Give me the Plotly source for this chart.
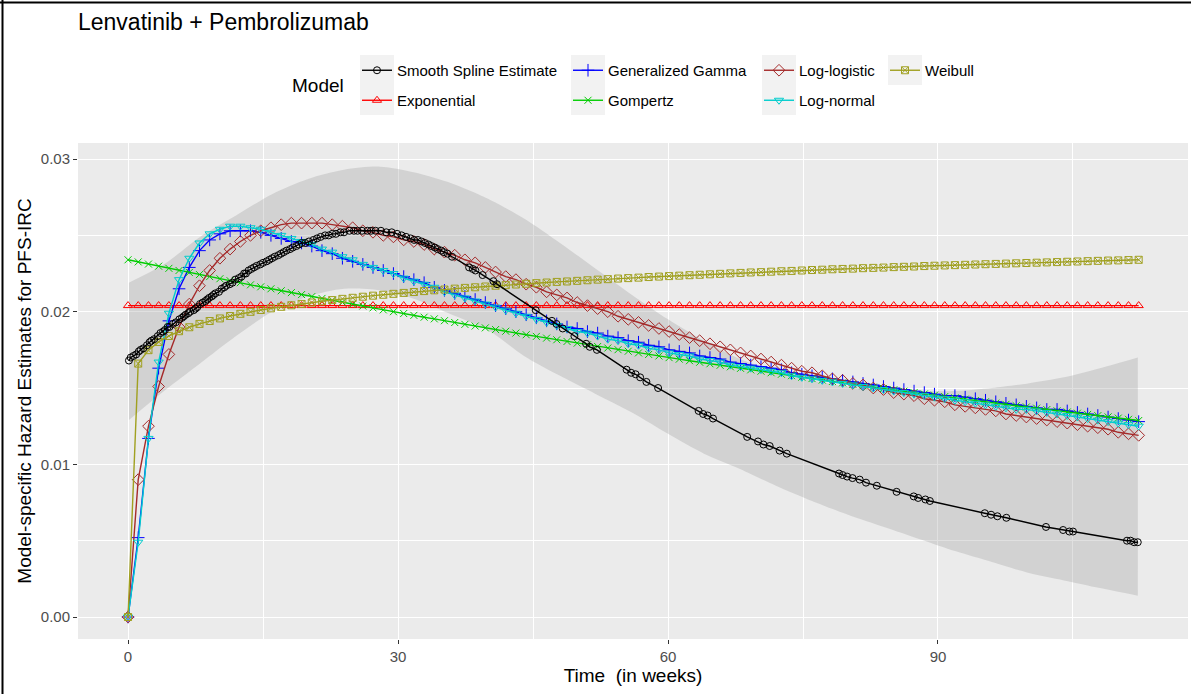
import plotly.graph_objects as go

FIG_W, FIG_H = 1191, 694
FONT = "Liberation Sans, Arial, Helvetica, sans-serif"

# ---- fitted parametric hazards, evaluated on a common grid of weeks ----
weeks = [0, 1.13, 2.27, 3.40, 4.54, 5.67, 6.81, 7.94, 9.07, 10.21,
         11.34, 12.48, 13.61, 14.75, 15.88, 17.02, 18.15, 19.28, 20.42, 21.55,
         22.69, 23.82, 24.96, 26.09, 27.22, 28.36, 29.49, 30.63, 31.76, 32.90,
         34.03, 35.16, 36.30, 37.43, 38.57, 39.70, 40.84, 41.97, 43.10, 44.24,
         45.37, 46.51, 47.64, 48.78, 49.91, 51.05, 52.18, 53.31, 54.45, 55.58,
         56.72, 57.85, 58.99, 60.12, 61.25, 62.39, 63.52, 64.66, 65.79, 66.93,
         68.06, 69.19, 70.33, 71.46, 72.60, 73.73, 74.87, 76.00, 77.14, 78.27,
         79.40, 80.54, 81.67, 82.81, 83.94, 85.08, 86.21, 87.34, 88.48, 89.61,
         90.75, 91.88, 93.02, 94.15, 95.28, 96.42, 97.55, 98.69, 99.82, 100.96,
         102.09, 103.23, 104.36, 105.49, 106.63, 107.76, 108.90, 110.03, 111.17, 112.30]

exponential_rate = 0.0204
exponential = [exponential_rate for _ in weeks]

gen_gamma = [0, 0.0052, 0.0117, 0.0163, 0.0194, 0.0215, 0.0229, 0.0240, 0.0247, 0.0251,
             0.0253, 0.0253, 0.0253, 0.0252, 0.0250, 0.0248, 0.0246, 0.0245, 0.0243, 0.0240,
             0.0238, 0.0235, 0.0233, 0.0231, 0.0229, 0.0227, 0.0225, 0.0223, 0.0221, 0.0219,
             0.0216, 0.0214, 0.0212, 0.0210, 0.0208, 0.0206, 0.0204, 0.0202, 0.0200, 0.0198,
             0.0196, 0.0194, 0.0192, 0.0190, 0.0189, 0.0187, 0.0186, 0.0184, 0.0183, 0.0181,
             0.0180, 0.0178, 0.0177, 0.0175, 0.0174, 0.0173, 0.0171, 0.0170, 0.0169, 0.0167,
             0.0166, 0.0165, 0.0164, 0.0163, 0.0162, 0.0160, 0.0159, 0.0158, 0.0157, 0.0156,
             0.0155, 0.0154, 0.0153, 0.0152, 0.0151, 0.0150, 0.0149, 0.0148, 0.0147, 0.0146,
             0.0145, 0.0145, 0.0144, 0.0143, 0.0142, 0.0141, 0.0140, 0.0139, 0.0138, 0.0137,
             0.0136, 0.0136, 0.0135, 0.0134, 0.0133, 0.0132, 0.0131, 0.0130, 0.0129, 0.0128]

gompertz = [0.02340, 0.02326, 0.02312, 0.02298, 0.02284, 0.02270, 0.02257, 0.02243, 0.02230, 0.02216,
            0.02203, 0.02190, 0.02176, 0.02163, 0.02150, 0.02137, 0.02125, 0.02112, 0.02099, 0.02087,
            0.02074, 0.02062, 0.02049, 0.02037, 0.02025, 0.02012, 0.02000, 0.01988, 0.01976, 0.01964,
            0.01953, 0.01941, 0.01929, 0.01917, 0.01906, 0.01894, 0.01883, 0.01872, 0.01860, 0.01849,
            0.01838, 0.01827, 0.01816, 0.01805, 0.01794, 0.01783, 0.01772, 0.01762, 0.01751, 0.01741,
            0.01730, 0.01720, 0.01710, 0.01699, 0.01689, 0.01679, 0.01669, 0.01659, 0.01649, 0.01639,
            0.01629, 0.01619, 0.01610, 0.01600, 0.01590, 0.01581, 0.01571, 0.01562, 0.01552, 0.01543,
            0.01534, 0.01524, 0.01515, 0.01506, 0.01497, 0.01488, 0.01479, 0.01470, 0.01461, 0.01453,
            0.01444, 0.01435, 0.01427, 0.01418, 0.01410, 0.01401, 0.01393, 0.01384, 0.01376, 0.01368,
            0.01359, 0.01351, 0.01343, 0.01335, 0.01327, 0.01319, 0.01311, 0.01303, 0.01295, 0.01287]

log_logistic = [0, 0.0090, 0.0125, 0.0151, 0.0172, 0.0190, 0.0205, 0.0217, 0.0227, 0.0235,
                0.0241, 0.0246, 0.0250, 0.0253, 0.0255, 0.0257, 0.0258, 0.0258, 0.0258, 0.0258,
                0.0257, 0.0256, 0.0255, 0.0253, 0.0252, 0.0250, 0.0249, 0.0247, 0.0246, 0.0244,
                0.0241, 0.0239, 0.0237, 0.0234, 0.0232, 0.0229, 0.0226, 0.0223, 0.0221, 0.0218,
                0.0216, 0.0213, 0.0211, 0.0209, 0.0206, 0.0204, 0.0202, 0.0200, 0.0197, 0.0195,
                0.0193, 0.0191, 0.0189, 0.0187, 0.0185, 0.0183, 0.0181, 0.0179, 0.0177, 0.0175,
                0.0173, 0.0171, 0.0169, 0.0167, 0.0165, 0.0163, 0.0161, 0.0160, 0.0158, 0.0156,
                0.0155, 0.0153, 0.0152, 0.0150, 0.0149, 0.0147, 0.0146, 0.0145, 0.0143, 0.0142,
                0.0141, 0.0139, 0.0138, 0.0137, 0.0136, 0.0135, 0.0133, 0.0132, 0.0131, 0.0130,
                0.0129, 0.0128, 0.0127, 0.0126, 0.0125, 0.0124, 0.0123, 0.0121, 0.0120, 0.0119]

log_normal = [0, 0.0049, 0.0117, 0.0167, 0.0199, 0.0221, 0.0235, 0.0245, 0.0251, 0.0254,
              0.0256, 0.0256, 0.0255, 0.0254, 0.0252, 0.0250, 0.0248, 0.0246, 0.0244, 0.0241,
              0.0239, 0.0236, 0.0234, 0.0231, 0.0229, 0.0227, 0.0225, 0.0222, 0.0220, 0.0218,
              0.0216, 0.0213, 0.0211, 0.0209, 0.0207, 0.0205, 0.0203, 0.0201, 0.0199, 0.0197,
              0.0195, 0.0193, 0.0191, 0.0189, 0.0187, 0.0186, 0.0184, 0.0182, 0.0181, 0.0179,
              0.0178, 0.0176, 0.0175, 0.0173, 0.0172, 0.0171, 0.0169, 0.0168, 0.0167, 0.0165,
              0.0164, 0.0163, 0.0162, 0.0161, 0.0160, 0.0158, 0.0157, 0.0156, 0.0155, 0.0154,
              0.0153, 0.0152, 0.0151, 0.0150, 0.0149, 0.0148, 0.0147, 0.0146, 0.0145, 0.0144,
              0.0143, 0.0142, 0.0141, 0.0140, 0.0139, 0.0138, 0.0137, 0.0136, 0.0136, 0.0135,
              0.0134, 0.0133, 0.0132, 0.0131, 0.0130, 0.0129, 0.0128, 0.0127, 0.0126, 0.0125]

weibull = [0, 0.01660, 0.01748, 0.01802, 0.01841, 0.01872, 0.01898, 0.01920, 0.01939, 0.01956,
           0.01972, 0.01986, 0.01999, 0.02011, 0.02022, 0.02032, 0.02042, 0.02051, 0.02060, 0.02068,
           0.02076, 0.02084, 0.02091, 0.02098, 0.02105, 0.02111, 0.02117, 0.02123, 0.02129, 0.02135,
           0.02140, 0.02145, 0.02151, 0.02156, 0.02160, 0.02165, 0.02170, 0.02174, 0.02178, 0.02183,
           0.02187, 0.02191, 0.02195, 0.02198, 0.02202, 0.02206, 0.02210, 0.02213, 0.02217, 0.02220,
           0.02223, 0.02227, 0.02230, 0.02233, 0.02236, 0.02239, 0.02242, 0.02245, 0.02248, 0.02251,
           0.02254, 0.02257, 0.02259, 0.02262, 0.02265, 0.02267, 0.02270, 0.02273, 0.02275, 0.02278,
           0.02280, 0.02282, 0.02285, 0.02287, 0.02289, 0.02292, 0.02294, 0.02296, 0.02299, 0.02301,
           0.02303, 0.02305, 0.02307, 0.02309, 0.02311, 0.02313, 0.02315, 0.02317, 0.02319, 0.02321,
           0.02323, 0.02325, 0.02327, 0.02329, 0.02331, 0.02333, 0.02335, 0.02336, 0.02338, 0.02340]

# ---- smooth spline estimate at the observed event times ----
spline_weeks = [0.1, 0.3, 0.6, 0.9, 1.2, 1.4, 1.7, 2.1, 2.4, 2.6,
                2.9, 3.3, 3.6, 3.9, 4.1, 4.4, 4.6, 5.0, 5.3, 5.7,
                6.0, 6.2, 6.4, 6.7, 6.9, 7.3, 7.5, 7.7, 8.0, 8.3,
                8.6, 8.8, 9.0, 9.3, 9.5, 9.7, 10.1, 10.4, 10.7, 10.9,
                11.3, 11.6, 11.9, 12.3, 12.6, 12.9, 13.1, 13.4, 13.7, 14.0,
                14.3, 14.7, 15.0, 15.4, 15.7, 16.0, 16.3, 16.7, 17.0, 17.3,
                17.6, 18.0, 18.3, 18.7, 19.0, 19.3, 19.7, 20.1, 20.6, 21.0,
                21.4, 21.9, 22.3, 22.7, 23.1, 23.6, 24.0, 24.6, 25.1, 25.5,
                26.0, 26.6, 27.0, 27.5, 28.1, 28.7, 29.3, 29.9, 30.4, 30.9,
                31.4, 31.8, 32.2, 32.6, 33.0, 33.4, 33.7, 34.1, 34.4, 34.8,
                35.1, 35.5, 36.0, 37.9, 38.3, 38.6, 39.4, 40.6, 41.0, 45.3,
                47.1, 47.6, 48.3, 49.6, 50.9, 51.3, 52.1, 55.4, 55.9, 56.4,
                56.9, 57.6, 58.9, 63.4, 63.9, 64.4, 65.0, 68.8, 70.0, 70.6,
                71.3, 72.4, 73.2, 79.0, 79.4, 79.9, 80.5, 81.3, 82.0, 83.2,
                85.4, 87.3, 87.8, 88.6, 89.1, 95.2, 95.9, 96.6, 97.6, 102.0,
                103.9, 104.6, 105.0, 111.0, 111.4, 111.8, 112.2]
spline_hazard = [0.0168, 0.0170, 0.0171, 0.0172, 0.0174, 0.0175, 0.0176, 0.0178, 0.0180, 0.0181,
                 0.0182, 0.0184, 0.0186, 0.0187, 0.0188, 0.0190, 0.0190, 0.0192, 0.0193, 0.0195,
                 0.0196, 0.0197, 0.0198, 0.0199, 0.0200, 0.0201, 0.0202, 0.0203, 0.0205, 0.0206,
                 0.0207, 0.0208, 0.0209, 0.0210, 0.0211, 0.0212, 0.0213, 0.0215, 0.0216, 0.0217,
                 0.0218, 0.0219, 0.0221, 0.0222, 0.0223, 0.0225, 0.0225, 0.0227, 0.0228, 0.0229,
                 0.0230, 0.0231, 0.0232, 0.0233, 0.0234, 0.0235, 0.0236, 0.0237, 0.0238, 0.0239,
                 0.0240, 0.0241, 0.0242, 0.0243, 0.0244, 0.0245, 0.0245, 0.0246, 0.0247, 0.0248,
                 0.0249, 0.0250, 0.0250, 0.0251, 0.0251, 0.0252, 0.0252, 0.0253, 0.0253, 0.0253,
                 0.0253, 0.0253, 0.0253, 0.0253, 0.0253, 0.0252, 0.0252, 0.0251, 0.0250, 0.0249,
                 0.0248, 0.0247, 0.0247, 0.0246, 0.0245, 0.0244, 0.0243, 0.0242, 0.0241, 0.0240,
                 0.0239, 0.0238, 0.0236, 0.0229, 0.0228, 0.0227, 0.0224, 0.0220, 0.0218, 0.0201,
                 0.0194, 0.0192, 0.0189, 0.0184, 0.0179, 0.0177, 0.0175, 0.0162, 0.0160, 0.0159,
                 0.0157, 0.0154, 0.0150, 0.0135, 0.0133, 0.0132, 0.0130, 0.0118, 0.0115, 0.0113,
                 0.0112, 0.0109, 0.0107, 0.0094, 0.0093, 0.0092, 0.0091, 0.0090, 0.0088, 0.0086,
                 0.0082, 0.0079, 0.0078, 0.0077, 0.0076, 0.0068, 0.0067, 0.0066, 0.0065, 0.0059,
                 0.0057, 0.0056, 0.0056, 0.0050, 0.0050, 0.0049, 0.0049]

# confidence band of the spline estimate
band_weeks = [0.1, 4, 8, 12, 16, 20, 24, 28, 32, 36, 40, 44, 48, 52, 56, 60,
              64, 68, 72, 76, 80, 84, 88, 92, 96, 100, 104, 108, 112.2]
band_upper = [0.0219, 0.0231, 0.0249, 0.0263, 0.0277, 0.0287, 0.0293, 0.0295, 0.0291, 0.0284,
              0.0274, 0.0261, 0.0245, 0.0228, 0.0211, 0.0195, 0.0181, 0.0169, 0.0161, 0.0155,
              0.0151, 0.0149, 0.0148, 0.0148, 0.0150, 0.0153, 0.0157, 0.0163, 0.0170]
band_lower = [0.0129, 0.0148, 0.0166, 0.0184, 0.0200, 0.0210, 0.0215, 0.0214, 0.0208, 0.0198,
              0.0188, 0.0171, 0.0158, 0.0146, 0.0134, 0.0120, 0.0107, 0.0097, 0.0086, 0.0076,
              0.0067, 0.0059, 0.0051, 0.0043, 0.0036, 0.0029, 0.0024, 0.0019, 0.0014]

# ---- page geometry (pixels) ----
PANEL_L, PANEL_R, PANEL_T, PANEL_B = 78, 1188, 143, 639
LEGEND_TOP = 54
LEGEND_COLS = [357, 568, 759, 885]   # left edge of each legend column


def fx(px):
    return px / FIG_W


def fy(py):
    return 1 - py / FIG_H


fig = go.Figure()

# confidence band
fig.add_trace(go.Scatter(x=band_weeks, y=band_lower, mode="lines",
                         line=dict(width=0, shape="spline", smoothing=0.8),
                         hoverinfo="skip", showlegend=False))
fig.add_trace(go.Scatter(x=band_weeks, y=band_upper, mode="lines", fill="tonexty",
                         fillcolor="rgba(153,153,153,0.30)",
                         line=dict(width=0, shape="spline", smoothing=0.8),
                         hoverinfo="skip", showlegend=False))


def add_model(name, x, y, color, symbol, size, legend, rank):
    fig.add_trace(go.Scatter(
        x=x, y=y, name=name, mode="lines+markers",
        line=dict(color=color, width=1.4),
        marker=dict(symbol=symbol, size=size, color=color,
                    line=dict(color=color, width=1)),
        legend=legend, legendgroup=name, legendrank=rank,
    ))


add_model("Exponential", weeks, exponential, "#FF0000", "triangle-up-open", 8, "legend", 2)
add_model("Generalized Gamma", weeks, gen_gamma, "#0000FF", "cross-thin-open", 9, "legend2", 1)
add_model("Gompertz", weeks, gompertz, "#00CD00", "x-thin-open", 7, "legend2", 2)
add_model("Log-logistic", weeks, log_logistic, "#A52A2A", "diamond-open", 9, "legend3", 1)
add_model("Log-normal", weeks, log_normal, "#00CDCD", "triangle-down-open", 8, "legend3", 2)
add_model("Weibull", weeks, weibull, "#A0A020", "square-x-open", 7, "legend4", 1)
add_model("Smooth Spline Estimate", spline_weeks, spline_hazard, "#000000", "circle-open", 7, "legend", 1)

legend_style = dict(orientation="v", xanchor="left", yanchor="top",
                    bgcolor="rgba(0,0,0,0)", borderwidth=0, tracegroupgap=7.5,
                    font=dict(family=FONT, size=15, color="black"))

axis_font = dict(family=FONT, size=15, color="#4D4D4D")
title_font = dict(family=FONT, size=19, color="black")

# grey key backgrounds behind the legend symbols, plus the outer frame
shapes = []
for i, lx in enumerate(LEGEND_COLS):
    rows = 1 if i == 3 else 2
    shapes.append(dict(type="rect", xref="paper", yref="paper", layer="below",
                       x0=fx(lx + 3), x1=fx(lx + 37),
                       y0=fy(LEGEND_TOP + 1 + 30 * rows), y1=fy(LEGEND_TOP + 1),
                       fillcolor="#F2F2F2", line=dict(width=0)))
shapes.append(dict(type="line", xref="paper", yref="paper", x0=fx(2.5), x1=fx(2.5),
                   y0=0, y1=1, line=dict(color="black", width=2)))
shapes.append(dict(type="line", xref="paper", yref="paper", x0=0, x1=1,
                   y0=fy(2.5), y1=fy(2.5), line=dict(color="black", width=2)))

fig.update_layout(
    width=FIG_W, height=FIG_H,
    template="none",
    margin=dict(l=0, r=0, t=0, b=0),
    paper_bgcolor="white",
    plot_bgcolor="#EBEBEB",
    font=dict(family=FONT),
    title=dict(text="Lenvatinib + Pembrolizumab", xref="paper", yref="paper",
               x=fx(PANEL_L), xanchor="left", y=fy(22), yanchor="middle",
               font=dict(family=FONT, size=23, color="black")),
    xaxis=dict(domain=[fx(PANEL_L), fx(PANEL_R)], range=[-5.56, 117.78],
               tick0=0, dtick=30, ticks="outside", ticklen=4, tickwidth=1.1,
               tickcolor="#333333", tickfont=axis_font,
               showgrid=True, gridcolor="white", gridwidth=1.3,
               minor=dict(tick0=0, dtick=15, showgrid=True, gridcolor="white", gridwidth=0.6),
               zeroline=False, showline=False, automargin=False,
               title=dict(text="Time\u00a0\u00a0(in weeks)", font=title_font, standoff=4)),
    yaxis=dict(domain=[fy(PANEL_B), fy(PANEL_T)], range=[-0.00144, 0.03105],
               tick0=0, dtick=0.01, tickformat=".2f", ticks="outside", ticklen=4,
               tickwidth=1.1, tickcolor="#333333", tickfont=axis_font,
               showgrid=True, gridcolor="white", gridwidth=1.3,
               minor=dict(tick0=0, dtick=0.005, showgrid=True, gridcolor="white", gridwidth=0.6),
               zeroline=False, showline=False, automargin=False,
               title=dict(text="Model-specific Hazard Estimates for PFS-IRC",
                          font=title_font, standoff=4)),
    legend=dict(x=fx(LEGEND_COLS[0]), y=fy(LEGEND_TOP), **legend_style),
    legend2=dict(x=fx(LEGEND_COLS[1]), y=fy(LEGEND_TOP), **legend_style),
    legend3=dict(x=fx(LEGEND_COLS[2]), y=fy(LEGEND_TOP), **legend_style),
    legend4=dict(x=fx(LEGEND_COLS[3]), y=fy(LEGEND_TOP), **legend_style),
    annotations=[dict(text="Model", xref="paper", yref="paper", x=fx(290), y=fy(86),
                      xanchor="left", yanchor="middle", showarrow=False,
                      font=dict(family=FONT, size=19, color="black"))],
    shapes=shapes,
    showlegend=True,
)

fig.write_html("out.html")
